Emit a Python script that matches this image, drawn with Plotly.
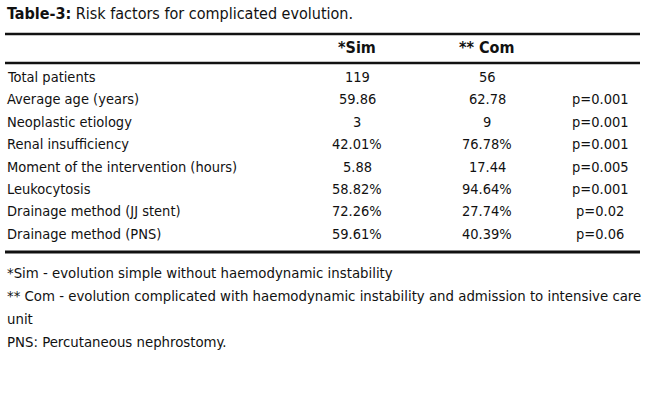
import plotly.graph_objects as go

title_bold = "Table-3:"
title_rest = " Risk factors for complicated evolution."
headers = ["", "*Sim", "** Com", ""]
factors = ["Total patients", "Average age (years)", "Neoplastic etiology",
           "Renal insufficiency", "Moment of the intervention (hours)",
           "Leukocytosis", "Drainage method (JJ stent)", "Drainage method (PNS)"]
sim_vals = ["119", "59.86", "3", "42.01%", "5.88", "58.82%", "72.26%", "59.61%"]
com_vals = ["56", "62.78", "9", "76.78%", "17.44", "94.64%", "27.74%", "40.39%"]
p_vals = ["", "p=0.001", "p=0.001", "p=0.001", "p=0.005", "p=0.001", "p=0.02", "p=0.06"]
footnotes = ["*Sim - evolution simple without haemodynamic instability",
             "** Com - evolution complicated with haemodynamic instability and admission to intensive care",
             "unit",
             "PNS: Percutaneous nephrostomy."]

FONT = "DejaVu Sans Condensed, Liberation Sans Narrow, sans-serif"
FS = 14.5
FS_TITLE = 16
FS_HEAD = 16
FS_FOOT = 14.8
COLOR = "#111111"

x_label, x_sim, x_com, x_p = 5, 357, 487, 600
y_title, y_header, y_row0, row_h = 13, 47, 77, 22.4
y_foot0, foot_h = 272, 23.2

fig = go.Figure()
ann = []
ann.append(dict(x=x_label, y=y_title, text=f"<b>{title_bold}</b>{title_rest}",
                xanchor="left", yanchor="middle", size=FS_TITLE))
ann.append(dict(x=x_sim, y=y_header, text=f"<b>{headers[1]}</b>", xanchor="center",
                yanchor="middle", size=FS_HEAD))
ann.append(dict(x=x_com, y=y_header, text=f"<b>{headers[2]}</b>", xanchor="center",
                yanchor="middle", size=FS_HEAD))
for i, (f, s, c, p) in enumerate(zip(factors, sim_vals, com_vals, p_vals)):
    y = y_row0 + i * row_h
    ann.append(dict(x=x_label, y=y, text=f, xanchor="left", yanchor="middle", size=FS))
    ann.append(dict(x=x_sim, y=y, text=s, xanchor="center", yanchor="middle", size=FS))
    ann.append(dict(x=x_com, y=y, text=c, xanchor="center", yanchor="middle", size=FS))
    if p:
        ann.append(dict(x=x_p, y=y, text=p, xanchor="center", yanchor="middle", size=FS))
for j, t in enumerate(footnotes):
    ann.append(dict(x=x_label, y=y_foot0 + j * foot_h, text=t, xanchor="left",
                    yanchor="middle", size=FS_FOOT))
for a in ann:
    size = a.pop("size")
    a.update(xref="x", yref="y", showarrow=False,
             font=dict(family=FONT, size=size, color=COLOR))

shapes = []
for y, w in [(34, 2.5), (63, 2.5), (252, 3)]:
    shapes.append(dict(type="line", xref="x", yref="y", x0=5, x1=640, y0=y, y1=y,
                       line=dict(color=COLOR, width=w)))

fig.update_layout(
    width=650, height=407, margin=dict(l=0, r=0, t=0, b=0),
    paper_bgcolor="white", plot_bgcolor="white",
    xaxis=dict(range=[0, 650], visible=False, fixedrange=True),
    yaxis=dict(range=[407, 0], visible=False, fixedrange=True),
    annotations=ann, shapes=shapes, showlegend=False,
)
fig.write_html("out.html", config={"displayModeBar": False},
               post_script="document.body.style.margin='0';")
